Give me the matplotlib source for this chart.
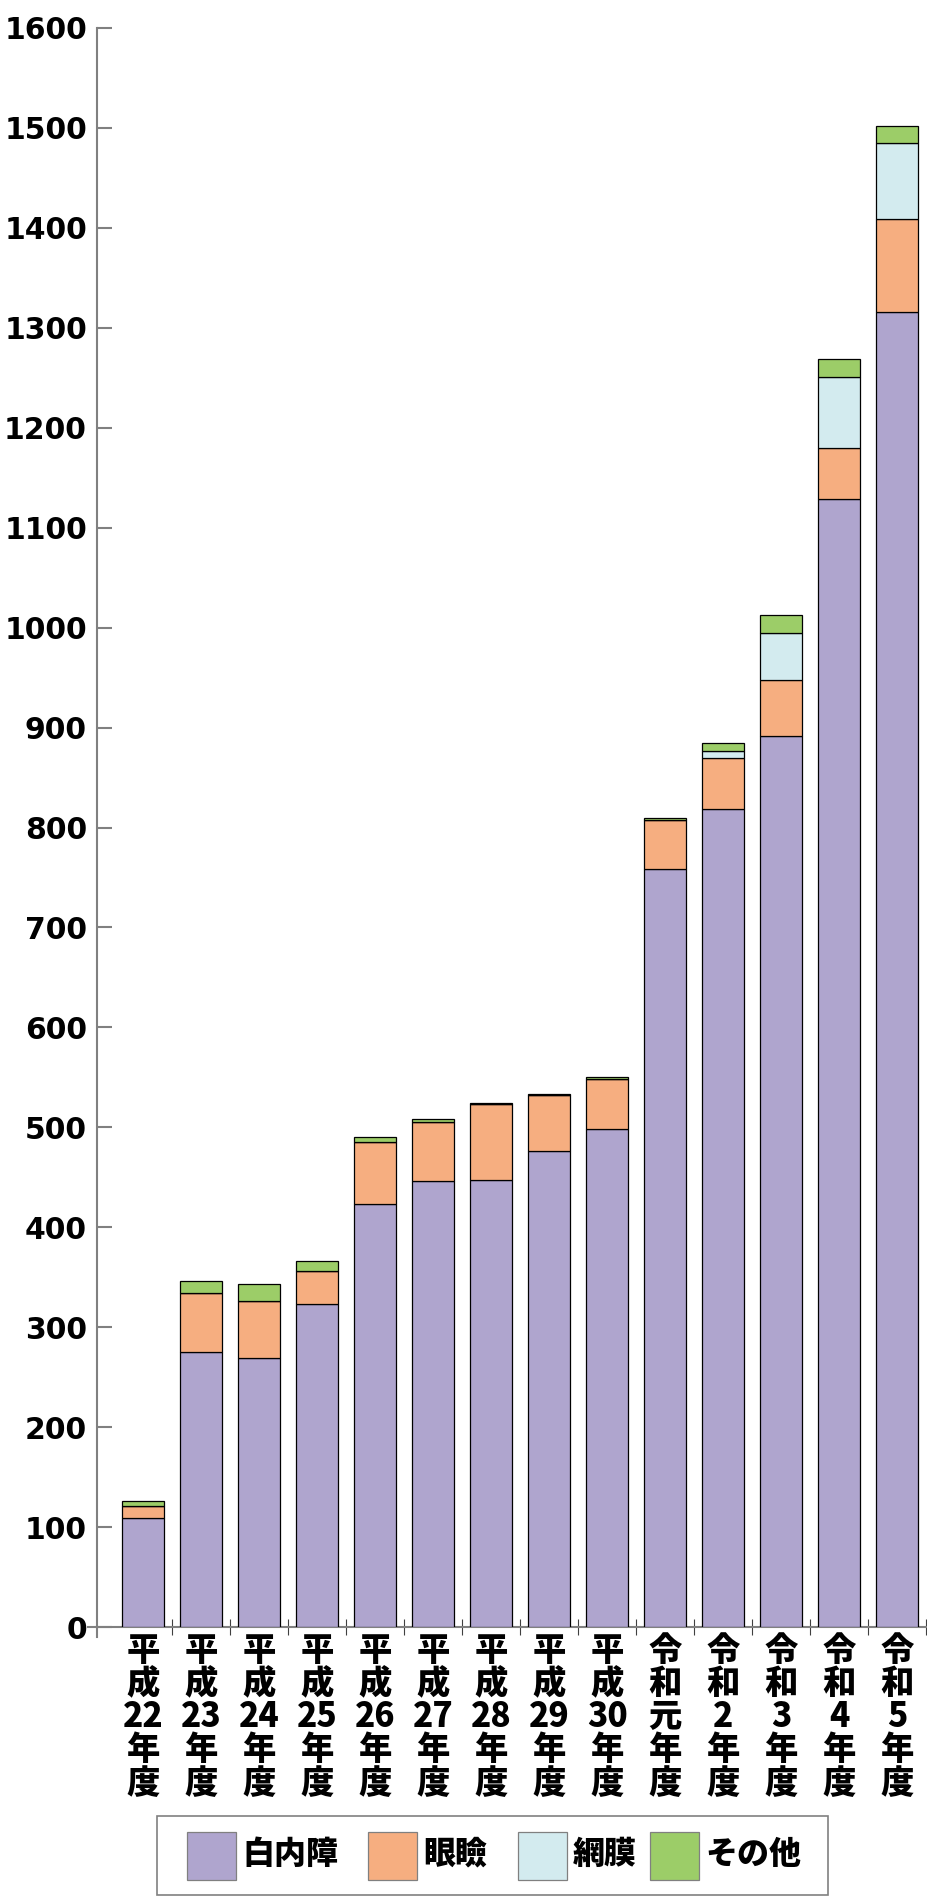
import matplotlib
matplotlib.use('Agg')
import matplotlib.pyplot as plt
from matplotlib.patches import Rectangle
import numpy as np

plt.rcParams['font.family'] = ['Noto Sans CJK JP', 'DejaVu Sans']

years = ['平\n成\n22\n年\n度', '平\n成\n23\n年\n度', '平\n成\n24\n年\n度',
         '平\n成\n25\n年\n度', '平\n成\n26\n年\n度', '平\n成\n27\n年\n度',
         '平\n成\n28\n年\n度', '平\n成\n29\n年\n度', '平\n成\n30\n年\n度',
         '令\n和\n元\n年\n度', '令\n和\n2\n年\n度', '令\n和\n3\n年\n度',
         '令\n和\n4\n年\n度', '令\n和\n5\n年\n度']

series_names = ['白内障', '眼瞼', '網膜', 'その他']
cataract = [109, 275, 269, 323, 423, 446, 447, 476, 498, 758, 819, 892, 1129, 1316]
eyelid = [12, 59, 57, 33, 62, 59, 76, 56, 50, 50, 51, 56, 51, 93]
retina = [0, 0, 0, 0, 0, 0, 0, 0, 0, 0, 7, 47, 71, 76]
other = [5, 12, 17, 10, 5, 3, 1, 1, 2, 2, 8, 18, 18, 17]

colors = ['#AFA5CE', '#F6AE80', '#D3EBEF', '#9CCD68']
axis_gray = '#808080'

W, H = 927, 1896
fig = plt.figure(figsize=(W / 100, H / 100), dpi=100)
ax = fig.add_axes([96.7 / W, 1 - 1627.3 / H, (926.3 - 96.7) / W, 1599.6 / H])

x = np.arange(len(years))
bottom = np.zeros(len(years))
for vals, c in zip([cataract, eyelid, retina, other], colors):
    vals = np.array(vals, dtype=float)
    ax.bar(x, vals, 0.724, bottom=bottom, color=c, edgecolor='black', linewidth=0.9, zorder=3)
    bottom += vals

ax.set_xlim(-0.5 - 17.6 / 58, 13.5)
ax.set_ylim(0, 1600)

for s in ['top', 'right']:
    ax.spines[s].set_visible(False)
for s in ['left', 'bottom']:
    ax.spines[s].set_color(axis_gray)
    ax.spines[s].set_linewidth(1.5)

# small overhangs where the two axes cross
ax.plot([-9 / 829.6, 0], [0, 0], transform=ax.transAxes, color=axis_gray, lw=1.5, clip_on=False)
ax.plot([0, 0], [-9.5 / 1599.6, 0], transform=ax.transAxes, color=axis_gray, lw=1.5, clip_on=False)

ax.set_yticks(np.arange(0, 1601, 100))
ax.tick_params(axis='y', direction='in', length=10.8, width=1.5, color=axis_gray, pad=7)
for lab in ax.get_yticklabels():
    lab.set_fontfamily('DejaVu Sans')
    lab.set_fontweight('bold')
    lab.set_fontsize(21.5)

ax.set_xticks(x)
ax.set_xticklabels(years, fontsize=24, fontweight='black', linespacing=0.935)
ax.tick_params(axis='x', which='major', length=0, pad=4)
ax.set_xticks(np.arange(0.5, 14, 1), minor=True)
ax.tick_params(axis='x', which='minor', direction='inout', length=11.5, width=0.8, color='#404040')

# legend drawn by hand (Excel spaces the entries unevenly)
leg_x = [187.3, 368.3, 518.0, 650.0]
for lx, name, c in zip(leg_x, series_names, colors):
    fig.patches.append(Rectangle((lx / W, 1 - 1880 / H), 49 / W, 48 / H, transform=fig.transFigure,
                                 facecolor=c, edgecolor=axis_gray, linewidth=0.9))
    fig.text((lx + 55) / W, 1 - 1854 / H, name, fontsize=23, fontweight='black',
             ha='left', va='center')
fig.patches.append(Rectangle((157.3 / W, 1.5 / H), (828 - 157.3) / W, 78.5 / H,
                             transform=fig.transFigure, fill=False, edgecolor=axis_gray, linewidth=1.2))

fig.savefig('out.png', dpi=100)
